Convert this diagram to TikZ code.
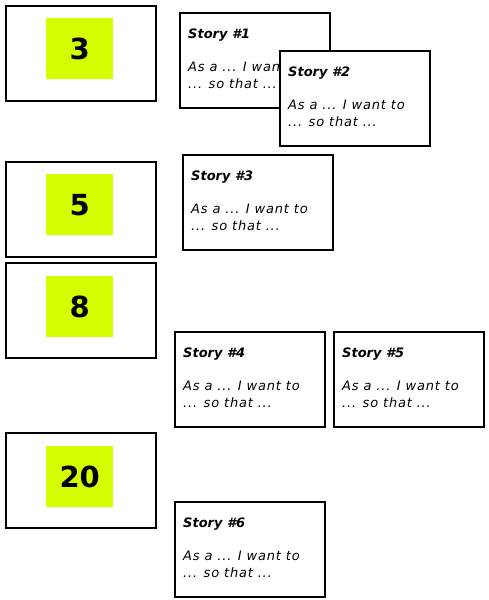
\documentclass[tikz,border=0pt]{standalone}
\usepackage{fontspec}
\setmainfont{DejaVu Sans}
\usetikzlibrary{positioning}
\definecolor{pointyellow}{RGB}{212,255,0}
\tikzset{
    estimate/.style={draw, line width=2pt, minimum width=150pt, minimum height=95pt, inner sep=0pt},
    points/.style={fill=pointyellow, minimum width=67pt, minimum height=61pt, inner sep=0pt,
        font=\fontsize{29}{29}\selectfont\bfseries},
    card/.style={draw, line width=2pt, fill=white, minimum width=150pt, minimum height=95pt, inner sep=0pt},
    cardtitle/.style={anchor=base west, inner sep=0pt, font=\fontsize{13}{15}\selectfont\bfseries\itshape},
    cardline/.style={anchor=base west, inner sep=0pt,
        font=\fontsize{13}{15}\selectfont\itshape\addfontfeature{LetterSpace=6}}
}

\begin{document}
\begin{tikzpicture}[x=1pt, y=-1pt]
\useasboundingbox (0,0) rectangle (488,600);

% Draw estimate boxes with their point values
\foreach \name/\val/\top/\ptop in {e3/3/5/18, e5/5/161/174, e8/8/262/276, e20/20/432/446} {
    \node[estimate, anchor=north west] (\name) at (5,\top) {};
    \node[points, anchor=north west] (\name p) at (46,\ptop) {\val};
}

% Draw story cards (story #2 is drawn after #1, so it lies on top)
\foreach \name/\num/\x/\y in {s1/1/179/12, s2/2/279/50, s3/3/182/154, s4/4/174/331, s5/5/333/331, s6/6/174/501} {
    \node[card, anchor=north west] (\name) at (\x,\y) {};
    \node[cardtitle] (\name t) at ([xshift=9pt, yshift=-26pt]\name.north west) {Story \#\num};
    \node[cardline] (\name a) at ([xshift=9pt, yshift=-59pt]\name.north west) {As a ... I want to};
    \node[cardline] (\name b) at ([xshift=9pt, yshift=-76pt]\name.north west) {... so that ...};
}
\end{tikzpicture}
\end{document}
